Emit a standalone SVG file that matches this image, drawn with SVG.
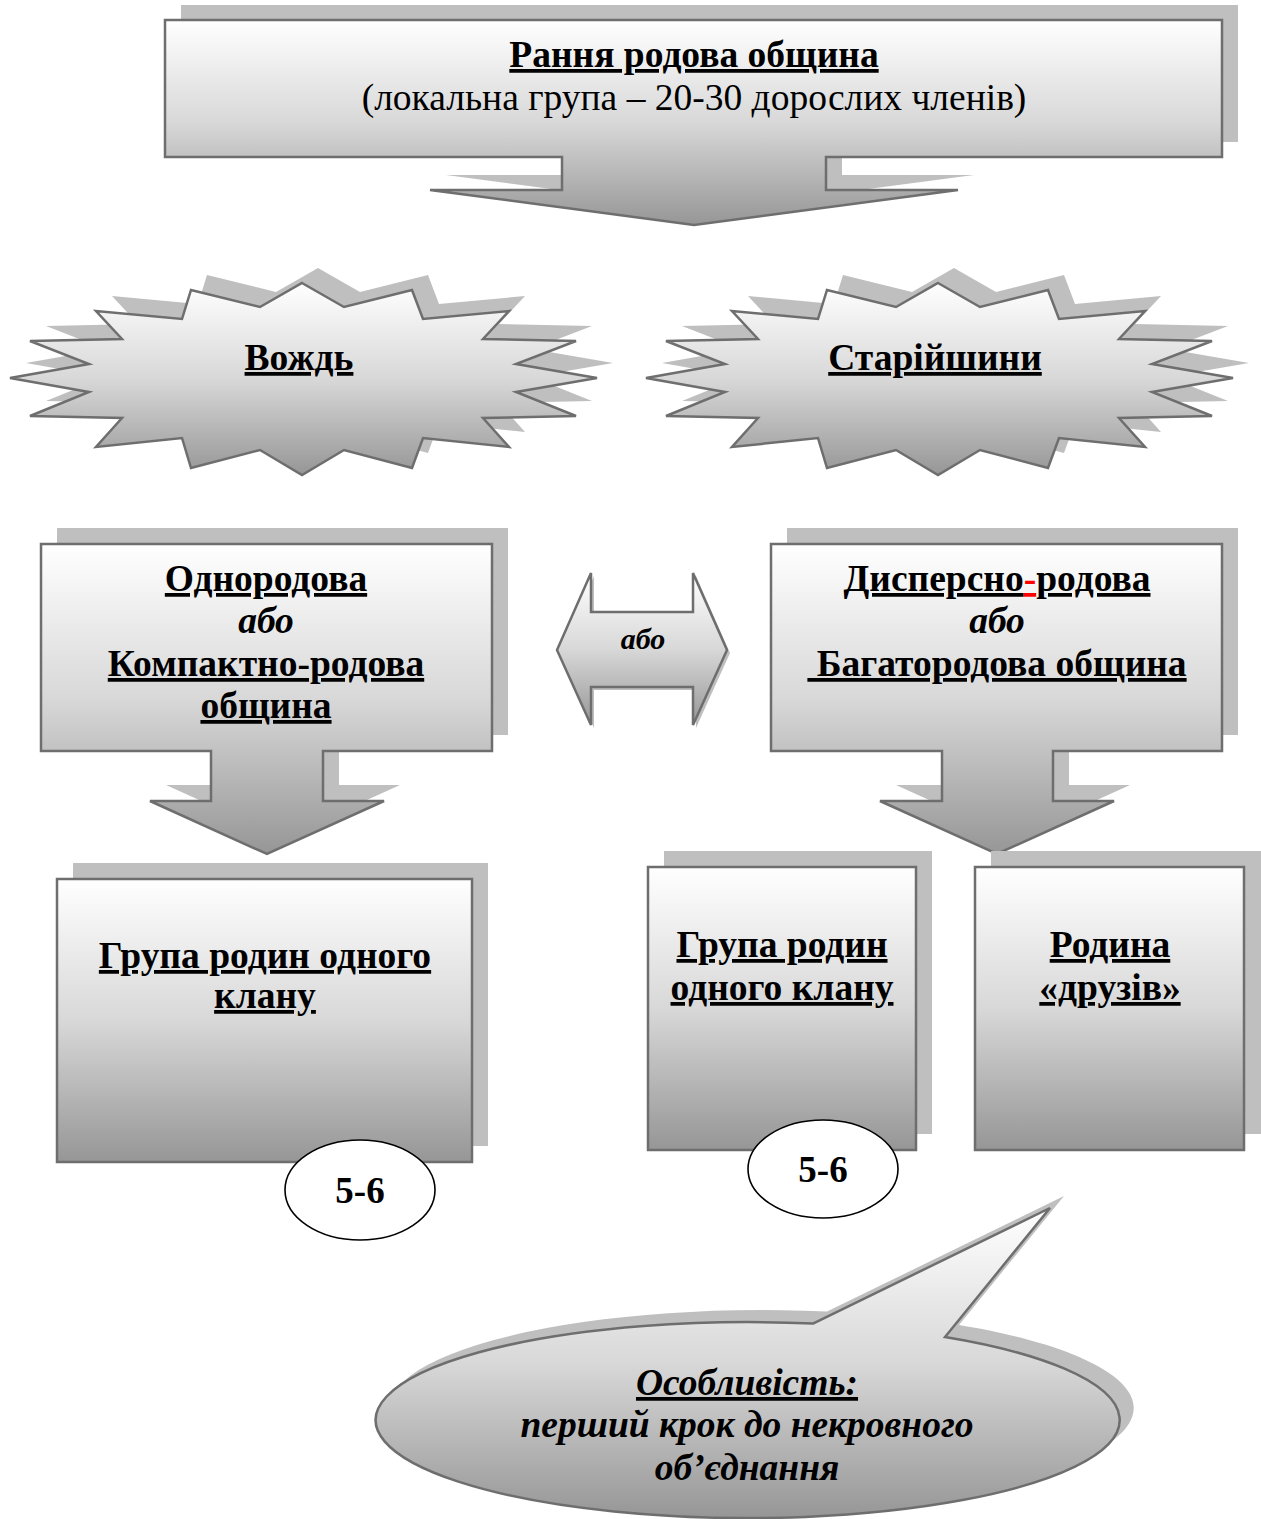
<svg xmlns="http://www.w3.org/2000/svg" xmlns:xlink="http://www.w3.org/1999/xlink" width="1261" height="1519" viewBox="0 0 1261 1519">
<style>
.sh{fill:#bfbfbf;stroke:none}
.sp{fill:url(#grad);stroke:#6e6e6e;stroke-width:2.5;stroke-linejoin:miter}
.t{font-family:"Liberation Serif","Times New Roman",serif;font-size:37.5px;text-anchor:middle;fill:#000}
.b{font-weight:bold}
.i{font-style:italic}
.u{text-decoration:underline}
.oval{fill:#fff;stroke:#000;stroke-width:1.6}
</style>
<defs>
<linearGradient id="grad" x1="0" y1="0" x2="0" y2="1">
<stop offset="0" stop-color="#ffffff"/>
<stop offset="0.5" stop-color="#d8d8d8"/>
<stop offset="1" stop-color="#969696"/>
</linearGradient>
<polygon id="star" points="302,283 344,307 412,290 423,319 509,311 483,339 576,341 516,364 597,378 516,392 576,416 483,418 509,447 423,438 412,468 344,450 302,475 260,450 191,468 182,438 96,447 122,418 30,416 89,392 10,378 89,364 30,341 122,339 96,311 182,319 191,290 260,307"/>
</defs>
<rect width="1261" height="1519" fill="#fff"/>

<g id="node-early-community">
<polygon class="sh" transform="translate(16,-15)" points="165,20 1222,20 1222,157 826,157 826,190 958,190 694,225 430,190 562,190 562,157 165,157"/>
<polygon class="sp" points="165,20 1222,20 1222,157 826,157 826,190 958,190 694,225 430,190 562,190 562,157 165,157"/>
<text class="t b u" x="694" y="67">Рання родова община</text>
<text class="t" x="694" y="110">(локальна група – 20-30 дорослих членів)</text>
</g>

<g id="node-chief">
<use href="#star" class="sh" transform="translate(16,-15)"/>
<use href="#star" class="sp"/>
<text class="t b u" x="299" y="370">Вождь</text>
</g>

<g id="node-elders">
<use href="#star" class="sh" transform="translate(652,-15)"/>
<use href="#star" class="sp" transform="translate(636,0)"/>
<text class="t b u" x="935" y="370">Старійшини</text>
</g>

<g id="node-single-clan">
<polygon class="sh" transform="translate(16,-16)" points="41,544 492,544 492,751 323,751 323,801 384,801 267,854 150,801 211,801 211,751 41,751"/>
<polygon class="sp" points="41,544 492,544 492,751 323,751 323,801 384,801 267,854 150,801 211,801 211,751 41,751"/>
<text class="t b u" x="266" y="591">Однородова</text>
<text class="t b i" x="266" y="633">або</text>
<text class="t b u" x="266" y="676">Компактно-родова</text>
<text class="t b u" x="266" y="718">община</text>
</g>

<g id="node-multi-clan">
<polygon class="sh" transform="translate(16,-16)" points="771,544 1222,544 1222,751 1053,751 1053,801 1114,801 997,854 880,801 942,801 942,751 771,751"/>
<polygon class="sp" points="771,544 1222,544 1222,751 1053,751 1053,801 1114,801 997,854 880,801 942,801 942,751 771,751"/>
<text class="t b" x="997" y="591"><tspan class="u">Дисперсно</tspan><tspan class="u" fill="#ff0000">-</tspan><tspan class="u">родова</tspan></text>
<text class="t b i" x="997" y="633">або</text>
<text class="t b u" x="997" y="676" xml:space="preserve"> Багатородова община</text>
</g>

<g id="connectors">
<g id="edge-or">
<polygon class="sh" transform="translate(3,3)" points="557,650 591,573 591,612 693,612 693,573 727,650 693,725 693,687 591,687 591,725"/>
<polygon class="sp" points="557,650 591,573 591,612 693,612 693,573 727,650 693,725 693,687 591,687 591,725"/>
<text class="t b i" x="643" y="649" style="font-size:30px">або</text>
</g>
</g>

<g id="node-clan-group-left">
<rect class="sh" x="73" y="863" width="415" height="283"/>
<rect class="sp" x="57" y="879" width="415" height="283"/>
<text class="t b u" x="265" y="968">Група родин одного</text>
<text class="t b u" x="265" y="1008">клану</text>
</g>

<g id="node-count-left">
<ellipse class="oval" cx="360" cy="1190" rx="75" ry="50"/>
<text class="t b" x="360" y="1203" style="font-size:37px">5-6</text>
</g>

<g id="node-clan-group-right">
<rect class="sh" x="664" y="851" width="268" height="283"/>
<rect class="sp" x="648" y="867" width="268" height="283"/>
<text class="t b u" x="782" y="957">Група родин</text>
<text class="t b u" x="782" y="1000">одного клану</text>
</g>

<g id="node-friends">
<rect class="sh" x="991" y="851" width="270" height="283"/>
<rect class="sp" x="975" y="867" width="269" height="283"/>
<text class="t b u" x="1110" y="957">Родина</text>
<text class="t b u" x="1110" y="1000">«друзів»</text>
</g>

<g id="node-count-right">
<ellipse class="oval" cx="823" cy="1169" rx="75" ry="49"/>
<text class="t b" x="823" y="1182" style="font-size:37px">5-6</text>
</g>

<g id="node-feature">
<path class="sh" transform="translate(14,-12)" d="M813,1323.6 L1050,1208 L945,1337 A372,98 0 1 1 813,1323.6 Z"/>
<path class="sp" d="M813,1323.6 L1050,1208 L945,1337 A372,98 0 1 1 813,1323.6 Z"/>
<text class="t b i u" x="747" y="1395">Особливість:</text>
<text class="t b i" x="747" y="1437">перший крок до некровного</text>
<text class="t b i" x="747" y="1480">об’єднання</text>
</g>
</svg>
